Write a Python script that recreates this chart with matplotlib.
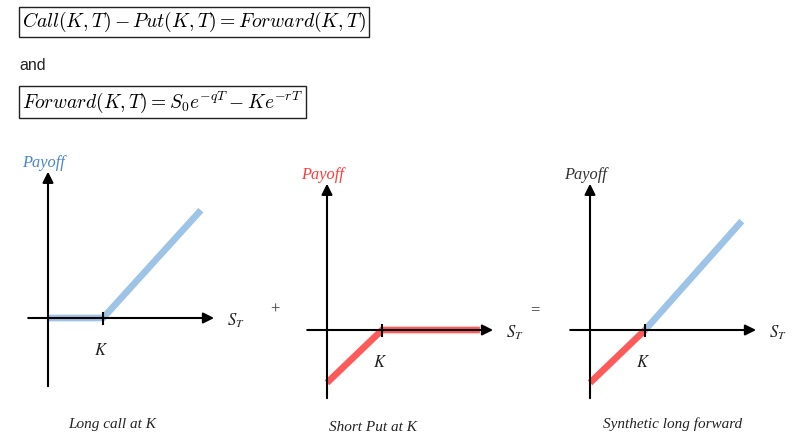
import matplotlib
matplotlib.use("Agg")
import matplotlib.pyplot as plt

# payoff diagrams, S_T on x, payoff on y (K = 50)
K = 50
s_call = [0, 50, 139]
call_payoff = [0, 0, 98]
s_put = [0, 50, 139]
put_payoff = [-48, 0, 0]
s_fwd_neg = [0, 50]
fwd_neg = [-48, 0]
s_fwd_pos = [50, 138]
fwd_pos = [0, 99]

captions = ["Long call at K", "Short Put at K", "Synthetic long forward"]
payoff_colors = ["#4a86c8", "#ff3b3b", "#333333"]

formula1 = r"$Call(K,T) - Put(K,T) = Forward(K,T)$"
formula2 = r"$Forward(K,T) = S_0 e^{-qT} - K e^{-rT}$"

BLUE = "#9dc3e6"
RED = "#ff5a5a"

W, H = 811, 442
fig = plt.figure(figsize=(W / 100, H / 100), dpi=100)
fig.patch.set_facecolor("white")

plt.rcParams["mathtext.fontset"] = "cm"

box = dict(boxstyle="square,pad=0.15", fc="white", ec="#222222", lw=1)
fig.text(22 / W, 1 - 22 / H, formula1, fontsize=14.2, ha="left", va="center", bbox=box)
fig.text(19 / W, 1 - 65 / H, "and", fontsize=11.5, ha="left", va="center",
         family="Liberation Sans", color="#222222")
fig.text(22 / W, 1 - 102 / H, formula2, fontsize=14, ha="left", va="center", bbox=box)

scale = 1.1  # pixels per data unit
xlim = (-40, 200)
ylim = (-80, 150)


def make_panel(ox, oy):
    left = (ox + xlim[0] * scale) / W
    bottom = 1 - (oy - ylim[0] * scale) / H
    width = (xlim[1] - xlim[0]) * scale / W
    height = (ylim[1] - ylim[0]) * scale / H
    ax = fig.add_axes([left, bottom, width, height])
    ax.set_xlim(*xlim)
    ax.set_ylim(*ylim)
    ax.axis("off")
    return ax


def draw_axes(ax, label_color):
    arrow = dict(arrowstyle="-|>", color="black", lw=1.5, mutation_scale=16,
                 shrinkA=0, shrinkB=0)
    ax.annotate("", xy=(151, 0), xytext=(-18, 0), arrowprops=arrow, zorder=3)
    ax.annotate("", xy=(0, 133), xytext=(0, -62), arrowprops=arrow, zorder=3)
    ax.plot([K, K], [-5, 5], color="black", lw=1.5, zorder=4)
    ax.text(-4, 141, "Payoff", color=label_color, fontsize=11.8, style="italic",
            family="Liberation Serif", ha="center", va="center")
    ax.text(163, -3, r"$S_T$", fontsize=12, ha="left", va="center",
            math_fontfamily="stix", color="#222222")
    ax.text(K - 2, -29, r"$K$", fontsize=12, ha="center", va="center",
            math_fontfamily="stix", color="#222222")


lw = 4.8

ax1 = make_panel(48, 318)
ax1.plot(s_call, call_payoff, color=BLUE, lw=lw, solid_capstyle="butt", zorder=2)
draw_axes(ax1, payoff_colors[0])
ax1.text(58, -97, captions[0], fontsize=11, style="italic", family="Liberation Serif",
         ha="center", va="center", color="#222222")

ax2 = make_panel(327, 330)
ax2.plot(s_put, put_payoff, color=RED, lw=lw, solid_capstyle="butt", zorder=2)
draw_axes(ax2, payoff_colors[1])
ax2.text(42, -89, captions[1], fontsize=11, style="italic", family="Liberation Serif",
         ha="center", va="center", color="#222222")

ax3 = make_panel(590, 330)
ax3.plot(s_fwd_neg, fwd_neg, color=RED, lw=lw, solid_capstyle="butt", zorder=2)
ax3.plot(s_fwd_pos, fwd_pos, color=BLUE, lw=lw, solid_capstyle="butt", zorder=2)
draw_axes(ax3, payoff_colors[2])
ax3.text(75, -86, captions[2], fontsize=11, style="italic", family="Liberation Serif",
         ha="center", va="center", color="#222222")

fig.text(275 / W, 1 - 310 / H, "+", fontsize=12, ha="center", va="center",
         family="Liberation Serif", color="#333333")
fig.text(535 / W, 1 - 310 / H, "=", fontsize=12, ha="center", va="center",
         family="Liberation Serif", color="#333333")

fig.savefig("out.png", dpi=100)
